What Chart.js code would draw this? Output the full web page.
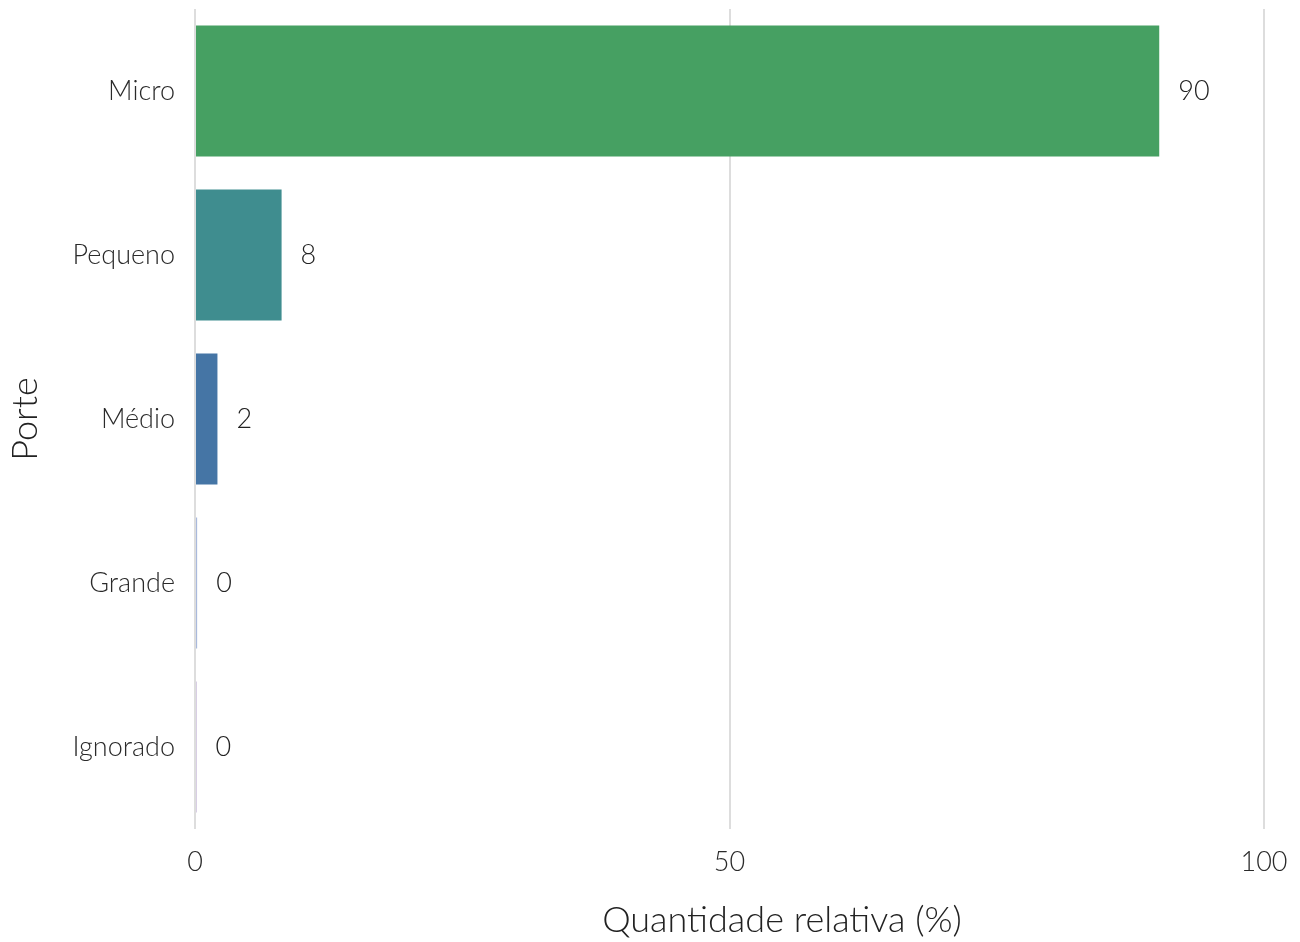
<!DOCTYPE html>
<html>
<head>
<meta charset="utf-8">
<script src="https://cdn.jsdelivr.net/npm/chart.js@4/dist/chart.umd.min.js"></script>
<style>
  html, body { margin: 0; padding: 0; background: #fff; }
  #wrap { width: 1300px; height: 942px; }
</style>
</head>
<body>
<div id="wrap"><canvas id="grafico" width="1300" height="942"></canvas></div>
<script>
// dados
const categorias = ['Micro', 'Pequeno', 'Médio', 'Grande', 'Ignorado']
const valores = [90.2, 8.1, 2.1, 0.2, 0.15]
const cores = ['#46a062', '#3f8d8f', '#4575a5', '#a9b9dc', '#bfaed2']
const ticksX = [0, 50, 100]

const fonte = 'Lato'

// rótulos no fim das barras + título do eixo x
const rotulos = {
    id: 'rotulos',
    afterDatasetsDraw(chart) {
        const ctx = chart.ctx
        const meta = chart.getDatasetMeta(0)
        ctx.save()
        ctx.font = '300 27px ' + fonte
        ctx.fillStyle = '#222'
        ctx.textAlign = 'left'
        ctx.textBaseline = 'middle'
        meta.data.forEach((bar, i) => {
            ctx.fillText(Math.round(valores[i]).toString(), bar.x + 19, bar.y)
        })
        // título do eixo x (deslocado como no original)
        ctx.font = '300 36px ' + fonte
        ctx.textAlign = 'center'
        ctx.fillText('Quantidade relativa (%)', 782, 920)
        ctx.restore()
    }
}

new Chart(document.getElementById('grafico'), {
    type: 'bar',
    data: {
        labels: categorias,
        datasets: [{
            data: valores,
            backgroundColor: cores,
            borderWidth: 0,
            barPercentage: 0.8,
            categoryPercentage: 1
        }]
    },
    options: {
        indexAxis: 'y',
        responsive: false,
        animation: false,
        layout: { padding: { top: 9, right: 36, left: 0, bottom: 0 } },
        plugins: {
            legend: { display: false },
            tooltip: { enabled: false }
        },
        scales: {
            x: {
                min: 0,
                max: 100,
                afterBuildTicks: (scale) => {
                    scale.ticks = ticksX.map(v => ({ value: v }))
                },
                grid: { color: '#dddddd', lineWidth: 2, drawTicks: false },
                border: { display: false },
                ticks: {
                    color: '#2a2a2a',
                    padding: 17,
                    font: { family: fonte, size: 27, weight: 300 }
                },
                afterFit: (scale) => {
                    scale.height = 113
                    scale.paddingLeft = 0
                    scale.paddingRight = 0
                }
            },
            y: {
                grid: { display: false, drawTicks: false },
                border: { display: false },
                ticks: {
                    color: '#2a2a2a',
                    padding: 20,
                    font: { family: fonte, size: 27, weight: 300 }
                },
                title: {
                    display: true,
                    text: 'Porte',
                    color: '#222',
                    font: { family: fonte, size: 36, weight: 300 },
                    padding: { top: 4, bottom: 0 }
                },
                afterFit: (scale) => {
                    scale.width = 195
                    scale.paddingTop = 0
                    scale.paddingBottom = 0
                }
            }
        }
    },
    plugins: [rotulos]
})
</script>
</body>
</html>
